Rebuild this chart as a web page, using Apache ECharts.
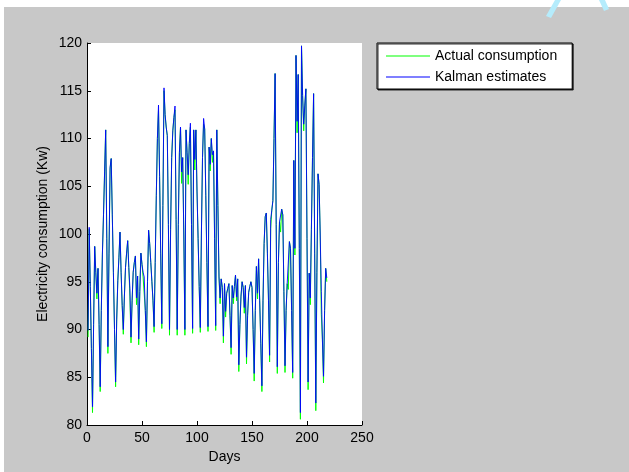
<!DOCTYPE html>
<html>
<head>
<meta charset="utf-8">
<script src="https://cdn.jsdelivr.net/npm/echarts@6/dist/echarts.min.js"></script>
<style>html,body{margin:0;padding:0;background:#fff}#c{width:629px;height:472px}</style>
</head>
<body>
<div id="c"></div>
<script>
var seriesNames = ['Actual consumption', 'Kalman estimates'];
var xTicks = [0, 50, 100, 150, 200, 250];
var yTicks = [80, 85, 90, 95, 100, 105, 110, 115, 120];

var kalman = [
89.9,100.7,94.5,88.0,81.9,90.5,98.7,96.0,93.8,96.4,
90.5,84.0,92.0,97.9,102.0,106.5,110.9,99.5,88.2,98.0,
107.0,107.9,102.0,96.0,90.0,84.5,91.0,95.1,97.5,100.2,
96.0,92.5,90.0,93.5,96.5,98.0,99.3,96.5,94.3,89.2,
93.0,96.0,97.0,97.7,93.3,95.6,89.0,94.0,98.0,96.8,
96.0,95.5,92.0,88.7,95.0,100.4,99.0,97.0,95.0,93.0,
90.3,97.0,104.0,110.0,113.5,106.0,98.0,90.6,103.0,115.3,
112.5,111.2,110.3,101.0,90.0,100.5,108.0,110.8,112.2,113.4,
101.5,90.0,101.0,108.5,111.2,106.5,108.0,100.0,90.0,110.9,
108.5,106.2,109.5,111.6,101.0,90.1,110.9,107.8,110.9,104.5,
99.5,94.5,90.2,100.0,108.0,112.1,111.0,104.0,97.0,90.3,
109.1,107.3,110.0,108.3,108.7,99.5,90.4,110.9,103.0,95.5,
93.3,95.3,94.4,89.3,94.8,91.9,93.8,94.3,94.8,91.5,
88.1,94.6,93.3,94.5,95.7,93.4,95.3,86.3,90.5,93.5,
95.0,94.4,92.3,94.6,87.1,91.5,93.9,94.5,95.0,94.4,
90.0,85.4,92.0,96.6,93.8,97.4,93.0,88.5,84.1,93.0,
99.0,101.8,102.2,98.0,93.0,87.3,101.5,102.5,103.5,110.0,
116.8,101.0,86.1,97.0,101.3,101.2,102.6,102.0,94.0,86.2,
92.0,94.8,95.0,99.2,98.5,92.0,85.5,107.7,98.5,118.7,
111.8,116.7,98.5,81.3,119.7,114.5,111.5,113.5,115.2,99.5,
84.5,95.9,93.3,100.5,108.0,114.7,98.0,82.3,96.0,106.3,
105.2,100.0,94.0,89.0,85.1,92.0,96.4,95.4
];

var actual = [
89.2,100.5,94.5,88.0,81.3,90.5,98.7,96.0,93.2,96.4,
90.5,83.5,92.0,97.9,102.0,106.5,110.9,99.5,87.5,98.0,
106.8,107.9,102.0,96.0,90.0,84.0,91.0,95.1,97.5,100.2,
96.0,92.5,89.5,93.5,96.5,98.0,99.3,96.5,93.5,88.6,
93.0,96.0,97.0,97.7,92.6,95.6,88.4,94.0,98.0,96.8,
95.5,95.5,92.0,88.2,95.0,100.4,99.0,97.0,95.0,93.0,
89.7,97.0,104.0,110.0,113.0,106.0,98.0,90.1,103.0,115.0,
112.5,111.2,110.3,101.0,89.4,100.5,108.0,110.8,112.2,113.0,
101.5,89.4,101.0,108.5,111.2,105.3,108.0,100.0,89.4,110.9,
108.5,105.2,109.5,111.2,101.0,89.6,110.9,106.7,110.9,104.5,
99.5,94.5,89.7,100.0,108.0,111.5,111.0,104.0,97.0,89.8,
109.1,106.6,110.0,107.5,108.7,99.5,89.9,110.9,103.0,95.5,
92.7,95.3,94.4,88.6,94.8,91.3,93.8,94.3,94.8,91.5,
87.4,94.6,92.7,94.5,95.7,93.0,95.3,85.6,90.5,93.5,
95.0,94.4,91.7,94.6,86.4,91.5,93.9,94.5,95.0,94.4,
90.0,84.6,92.0,96.6,93.2,97.4,93.0,88.5,83.5,93.0,
99.0,101.8,102.2,98.0,93.0,86.6,100.6,102.5,103.5,110.0,
116.8,101.0,85.4,97.0,101.3,100.2,102.6,102.0,94.0,85.5,
92.0,94.8,94.2,99.2,98.5,92.0,84.9,107.7,97.8,118.7,
110.6,116.7,98.5,80.6,119.7,114.5,110.8,113.5,115.2,99.5,
83.7,95.9,92.6,100.5,108.0,114.7,98.0,81.5,96.0,106.3,
105.2,100.0,91.6,89.0,84.4,92.0,96.4,95.0
];

function pairs(vals) { return vals.map(function (v, i) { return [i + 1, v]; }); }

var font = 'Liberation Sans, Arial, Helvetica, sans-serif';
var chart = echarts.init(document.getElementById('c'), null, {renderer: 'canvas'});
chart.setOption({
  animation: false,
  backgroundColor: '#c8c8c8',
  graphic: [
    {type: 'rect', shape: {x: 0, y: 0, width: 629, height: 7}, style: {fill: '#ffffff'}, silent: true},
    {type: 'rect', shape: {x: 0, y: 0, width: 4, height: 472}, style: {fill: '#ffffff'}, silent: true},
    {type: 'polygon', shape: {points: [[555, 0], [561, 0], [551, 18], [546, 16]]}, style: {fill: '#b5ecfc'}, silent: true},
    {type: 'polygon', shape: {points: [[599, 0], [605, 0], [609, 9], [604, 11]]}, style: {fill: '#b5ecfc'}, silent: true}
  ],
  grid: {left: 87, right: 267, top: 43, bottom: 47, show: true, backgroundColor: '#ffffff', borderWidth: 0},
  legend: {
    orient: 'vertical', left: 377, top: 43,
    backgroundColor: '#ffffff', borderColor: '#000000', borderWidth: 1,
    shadowColor: 'rgba(0,0,0,0.8)', shadowOffsetX: 1, shadowOffsetY: 1, shadowBlur: 0,
    padding: [6, 15, 5, 9], itemGap: 7, itemWidth: 44, itemHeight: 14,
    textStyle: {fontSize: 14, color: '#000', fontFamily: font},
    data: [
      {name: seriesNames[0], icon: 'path://M0,0 L44,0 L44,1 L0,1 Z', itemStyle: {color: '#00ff00'}},
      {name: seriesNames[1], icon: 'path://M0,0 L44,0 L44,1 L0,1 Z', itemStyle: {color: '#0000ff'}}
    ]
  },
  xAxis: {
    type: 'value', min: xTicks[0], max: xTicks[xTicks.length - 1], interval: 50,
    name: 'Days', nameLocation: 'middle', nameGap: 25,
    nameTextStyle: {fontSize: 14, color: '#000', fontFamily: font},
    axisLine: {lineStyle: {color: '#000', width: 1}},
    axisTick: {inside: true, length: 4, lineStyle: {color: '#000'}},
    axisLabel: {fontSize: 14, color: '#000', margin: 6, fontFamily: font},
    splitLine: {show: false}
  },
  yAxis: {
    type: 'value', min: yTicks[0], max: yTicks[yTicks.length - 1], interval: 5,
    name: 'Electricity consumption (Kw)', nameLocation: 'middle', nameGap: 37,
    nameTextStyle: {fontSize: 14, color: '#000', fontFamily: font},
    axisLine: {show: true, lineStyle: {color: '#000', width: 1}},
    axisTick: {show: true, inside: true, length: 4, lineStyle: {color: '#000'}},
    axisLabel: {fontSize: 14, color: '#000', margin: 5, fontFamily: font},
    splitLine: {show: false}
  },
  series: [
    {name: seriesNames[0], type: 'line', data: pairs(actual), symbol: 'none', lineStyle: {color: '#00ff00', width: 1}, itemStyle: {color: '#00ff00'}},
    {name: seriesNames[1], type: 'line', data: pairs(kalman), symbol: 'none', lineStyle: {color: '#0000ff', width: 1, opacity: 0.9}, itemStyle: {color: '#0000ff'}}
  ]
});
</script>
</body>
</html>
